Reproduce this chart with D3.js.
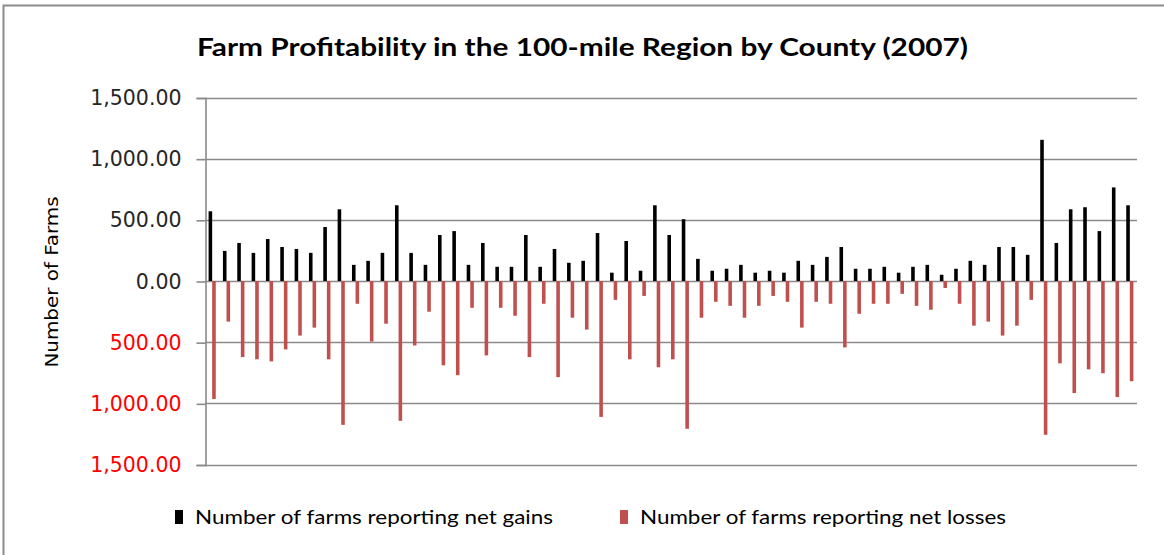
<!DOCTYPE html>
<html>
<head>
<meta charset="utf-8">
<script src="https://cdn.jsdelivr.net/npm/d3@7/dist/d3.min.js"></script>
<style>
  html, body { margin: 0; padding: 0; background: #fff; }
  svg { display: block; }
</style>
</head>
<body>
<svg id="chart" width="1164" height="555"></svg>
<script>
// Farms per county reporting net gains / net losses (2007), in county order
const counties = d3.range(1, 66).map(i => "County " + i);
const gains = [
  570, 246, 311, 230, 343, 278, 262, 230, 441, 586,
  132, 165, 230, 619, 230, 132, 376, 408, 132, 311,
  116, 116, 376, 116, 262, 149, 165, 392, 68, 327,
  84, 619, 376, 505, 181, 84, 100, 132, 68, 84,
  68, 165, 132, 197, 278, 100, 100, 116, 68, 116,
  132, 51, 100, 165, 132, 278, 278, 214, 1154, 311,
  586, 603, 408, 765, 619
];
const losses = [
  -965, -332, -622, -640, -657, -559, -446, -381, -640, -1176,
  -186, -495, -349, -1143, -527, -251, -689, -770, -219, -608,
  -219, -284, -622, -186, -786, -300, -397, -1111, -154, -640,
  -122, -705, -640, -1208, -300, -170, -203, -300, -203, -122,
  -170, -381, -170, -186, -543, -268, -186, -186, -105, -203,
  -235, -57, -186, -365, -332, -446, -365, -154, -1257, -673,
  -916, -722, -754, -949, -819
];
const yTicks = [-1500, -1000, -500, 0, 500, 1000, 1500];
const seriesNames = ["Number of farms reporting net gains", "Number of farms reporting net losses"];
const seriesColors = ["#000000", "#C0504D"];

const svg = d3.select("#chart");
const plot = { left: 205, right: 1137, top: 97.5, bottom: 464.5 };

// outer chart frame
svg.append("rect")
  .attr("x", 3.5).attr("y", 5.5)
  .attr("width", 1180).attr("height", 570)
  .attr("fill", "#fff")
  .attr("stroke", "#8c8c8c").attr("stroke-width", 2);

// title
svg.append("text")
  .attr("x", 197).attr("y", 56)
  .style("font-family", "Lato, 'Open Sans', sans-serif")
  .attr("font-weight", 700)
  .attr("font-size", 25)
  .attr("fill", "#000")
  .attr("textLength", 771)
  .attr("lengthAdjust", "spacingAndGlyphs")
  .text("Farm Profitability in the 100-mile Region by County (2007)");

const x0 = d3.scaleBand()
  .domain(counties)
  .range([plot.left, plot.right])
  .paddingInner(0.5)
  .paddingOuter(0.25);

const x1 = d3.scaleBand()
  .domain([0, 1])
  .range([0, x0.bandwidth()]);

const y = d3.scaleLinear()
  .domain([-1500, 1500])
  .range([plot.bottom, plot.top]);

// horizontal gridlines
svg.append("g")
  .selectAll("line")
  .data(yTicks)
  .join("line")
  .attr("x1", plot.left).attr("x2", plot.right)
  .attr("y1", d => Math.round(y(d)) + 0.5)
  .attr("y2", d => Math.round(y(d)) + 0.5)
  .attr("stroke", "#8a8a8a")
  .attr("stroke-width", 1.6);

// value axis with absolute-value labels; negatives in red
const fmt = d3.format(",.2f");
const yAxis = svg.append("g")
  .attr("transform", `translate(${plot.left + 0.5},0.5)`)
  .call(d3.axisLeft(y).tickValues(yTicks).tickSize(9).tickPadding(15)
    .tickFormat(d => fmt(Math.abs(d))));
yAxis.select(".domain").attr("stroke", "#8a8a8a").attr("stroke-width", 1.6);
yAxis.selectAll(".tick line").attr("stroke", "#8a8a8a").attr("stroke-width", 1.6);
yAxis.selectAll(".tick text")
  .style("font-family", "'DejaVu Sans', sans-serif")
  .attr("font-size", 20.5)
  .attr("fill", d => d < 0 ? "#FF0000" : "#262626");

// axis title
svg.append("text")
  .attr("transform", `translate(58,282) rotate(-90)`)
  .attr("text-anchor", "middle")
  .style("font-family", "'DejaVu Sans', sans-serif")
  .attr("font-size", 17.5)
  .attr("fill", "#000")
  .attr("textLength", 171)
  .attr("lengthAdjust", "spacingAndGlyphs")
  .text("Number of Farms");

// bars
const rows = counties.map((c, i) => ({ county: c, values: [gains[i], losses[i]] }));
const groups = svg.append("g")
  .selectAll("g")
  .data(rows)
  .join("g")
  .attr("transform", d => `translate(${x0(d.county)},0)`);

groups.selectAll("rect")
  .data(d => d.values.map((v, k) => ({ k, v })))
  .join("rect")
  .attr("x", d => x1(d.k))
  .attr("width", x1.bandwidth())
  .attr("y", d => y(Math.max(0, d.v)))
  .attr("height", d => Math.abs(y(d.v) - y(0)))
  .attr("fill", d => seriesColors[d.k]);

// legend
const legendItems = [
  { x: 175, textX: 195, len: 358 },
  { x: 620, textX: 640, len: 366 }
];
const legend = svg.append("g");
legendItems.forEach((it, k) => {
  legend.append("rect")
    .attr("x", it.x).attr("y", 510)
    .attr("width", 8).attr("height", 14)
    .attr("fill", seriesColors[k]);
  legend.append("text")
    .attr("x", it.textX).attr("y", 524)
    .style("font-family", "Lato, 'Open Sans', sans-serif")
    .attr("font-size", 19)
    .attr("fill", "#000")
    .attr("textLength", it.len)
    .attr("lengthAdjust", "spacingAndGlyphs")
    .text(seriesNames[k]);
});
</script>
</body>
</html>
